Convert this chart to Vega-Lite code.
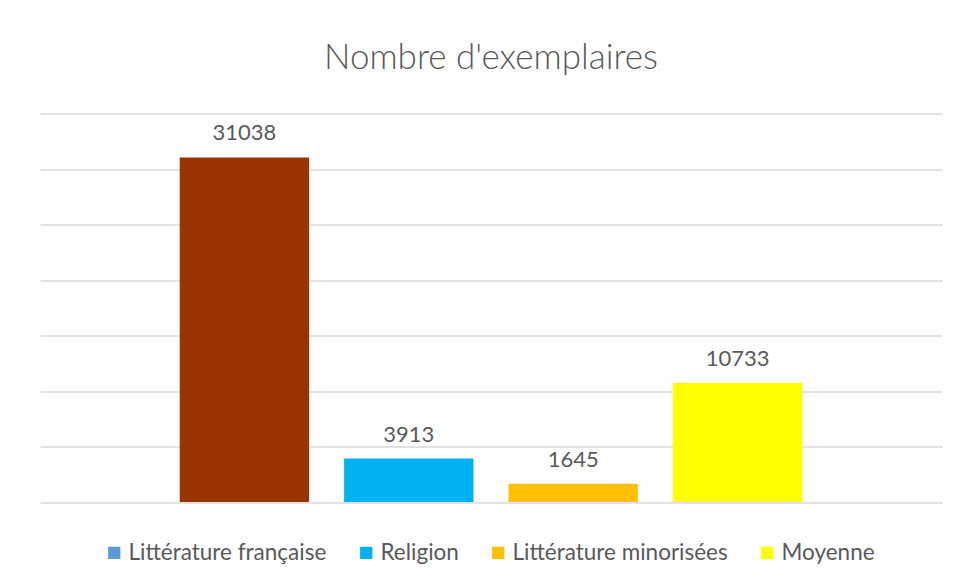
{
  "$schema": "https://vega.github.io/schema/vega-lite/v6.json",
  "autosize": "none",
  "width": 902,
  "height": 388.5,
  "padding": {"left": 40, "top": 113.5, "right": 18, "bottom": 81},
  "background": "#FFFFFF",
  "title": {
    "text": "Nombre d'exemplaires",
    "font": "Lato",
    "fontSize": 35,
    "fontWeight": 300,
    "color": "#595959",
    "anchor": "middle",
    "frame": "group",
    "baseline": "alphabetic",
    "offset": 10
  },
  "data": {
    "values": [
      {"categorie": "Littérature française", "exemplaires": 31038},
      {"categorie": "Religion", "exemplaires": 3913},
      {"categorie": "Littérature minorisées", "exemplaires": 1645},
      {"categorie": "Moyenne", "exemplaires": 10733}
    ]
  },
  "config": {
    "view": {"stroke": null},
    "legend": {
      "orient": "none",
      "legendX": 63,
      "legendY": 428,
      "direction": "horizontal",
      "symbolType": "square",
      "symbolSize": 150,
      "symbolStrokeWidth": 0,
      "labelFont": "Lato",
      "labelFontSize": 22.5,
      "labelColor": "#595959",
      "labelOffset": 3,
      "labelLimit": 0,
      "columnPadding": 28,
      "title": null
    }
  },
  "encoding": {
    "x": {
      "field": "categorie",
      "type": "nominal",
      "sort": null,
      "scale": {"paddingInner": 0.213, "paddingOuter": 0.85},
      "axis": null
    },
    "y": {
      "field": "exemplaires",
      "type": "quantitative",
      "scale": {"domain": [0, 35000], "nice": false},
      "axis": {
        "values": [0, 5000, 10000, 15000, 20000, 25000, 30000, 35000],
        "labels": false,
        "ticks": false,
        "domain": false,
        "grid": true,
        "gridColor": "#D9D9D9",
        "gridWidth": 1.5,
        "title": null
      }
    }
  },
  "layer": [
    {
      "mark": {"type": "bar"},
      "encoding": {
        "color": {
          "condition": {"test": "datum.categorie === 'Littérature française'", "value": "#993300"},
          "field": "categorie",
          "type": "nominal",
          "sort": null,
          "scale": {
            "domain": ["Littérature française", "Religion", "Littérature minorisées", "Moyenne"],
            "range": ["#5B9BD5", "#00B0F0", "#FFC000", "#FFFF00"]
          },
          "legend": {}
        }
      }
    },
    {
      "mark": {"type": "text", "font": "Lato", "fontSize": 22, "color": "#595959", "baseline": "alphabetic", "dy": -17},
      "encoding": {
        "text": {"field": "exemplaires", "type": "quantitative", "format": "d"}
      }
    }
  ]
}
